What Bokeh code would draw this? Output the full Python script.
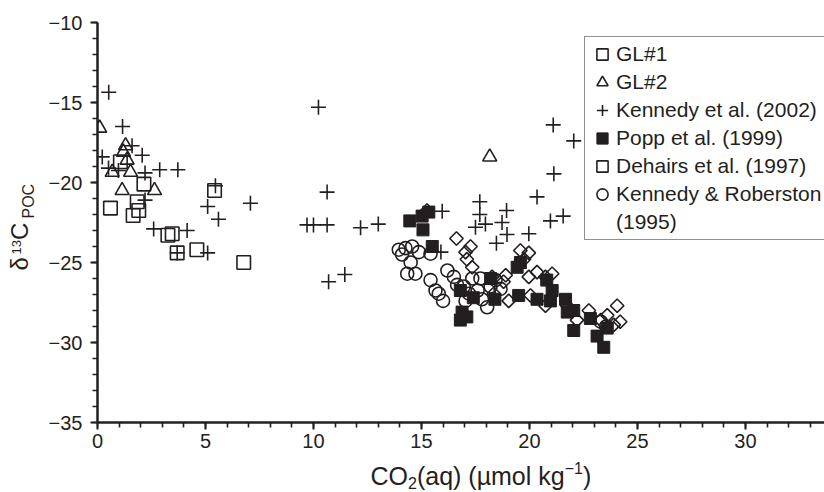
import math
from bokeh.plotting import figure
from bokeh.layouts import column, row
from bokeh.models import Legend, LegendItem, FixedTicker, Range1d
from bokeh.core.properties import value
from bokeh.embed import file_html
from bokeh.resources import INLINE

INK = "#231f20"
FONT = "Liberation Sans"

# ---------------- data ----------------
gl1_x = [0.6, 1.06, 1.84, 1.91, 1.65, 2.15, 3.26, 3.46, 3.69, 4.6, 5.42, 6.77]
gl1_y = [-21.6, -18.7, -21.2, -21.75, -22.06, -20.1, -23.3, -23.2, -24.4, -24.2, -20.5, -25.0]

gl2_x = [0.1, 1.3, 1.2, 1.37, 0.68, 1.53, 1.14, 2.64, 18.16]
gl2_y = [-16.6, -17.7, -18.1, -18.6, -19.36, -19.36, -20.5, -20.5, -18.4]

ken02_x = [0.52, 1.16, 1.6, 0.22, 2.07, 0.51, 0.97, 2.2, 2.88, 3.72, 5.46, 2.2, 5.1, 5.6,
           7.08, 2.6, 4.15, 3.69, 5.1,
           10.23, 10.63, 9.7, 10.0, 10.63, 12.18, 13.0, 10.7, 11.45,
           21.1, 22.05, 21.13, 20.35, 17.7, 15.96, 17.7, 18.94, 17.96, 17.5, 18.73,
           20.97, 21.56, 18.96, 19.97, 18.47, 15.9]
ken02_y = [-14.36, -16.5, -17.7, -18.4, -18.3, -19.1, -19.25, -19.4, -19.2, -19.2, -20.2, -21.1, -21.5, -22.3,
           -21.3, -22.9, -23.0, -24.4, -24.4,
           -15.3, -20.6, -22.65, -22.65, -22.65, -22.83, -22.6, -26.2, -25.75,
           -16.4, -17.4, -19.46, -20.9, -21.2, -21.8, -22.0, -21.75, -22.6, -22.8, -22.5,
           -22.4, -22.1, -23.25, -23.2, -23.8, -24.35]

popp_x = [14.46, 15.03, 15.34, 15.07, 15.5, 19.43, 19.58, 18.2, 18.4, 17.4, 16.8, 16.88, 17.1,
          16.8, 19.5, 20.35, 20.8, 21.05, 20.97, 21.67, 22.05, 21.75, 22.82, 22.05, 23.13,
          23.44, 23.6]
popp_y = [-22.4, -22.1, -21.85, -22.96, -24.0, -25.3, -25.0, -26.0, -27.3, -27.2, -26.75, -28.1, -28.4,
          -28.6, -27.06, -27.3, -26.1, -26.75, -27.4, -27.3, -28.0, -28.1, -28.5, -29.25, -29.6,
          -30.3, -29.1]

deh_x = [15.26, 16.62, 17.27, 17.04, 17.1, 17.35, 18.27, 18.9, 19.58, 19.97, 19.75, 20.35, 20.74,
         21.05, 19.97, 19.04, 20.05, 20.74, 21.75, 22.2, 22.75, 23.3, 23.6, 24.06, 24.2, 23.9,
         18.8, 18.35]
deh_y = [-21.75, -23.5, -24.0, -24.35, -24.8, -25.3, -25.9, -25.8, -24.25, -24.4, -24.8, -25.6, -25.9,
         -25.7, -25.9, -27.4, -27.06, -27.7, -27.7, -28.6, -28.0, -28.6, -28.3, -27.7, -28.7, -28.9,
         -26.2, -26.95]

kr_x = [13.95, 14.1, 14.26, 14.57, 14.88, 15.42, 14.5, 14.34, 14.72, 15.42, 15.8, 16.0, 16.2, 16.5,
        16.65, 16.96, 17.2, 17.35, 17.73, 17.6, 17.8, 18.04, 18.2, 18.43, 18.66, 17.04, 15.65,
        23.3, 23.55]
kr_y = [-24.2, -24.5, -24.1, -24.0, -24.35, -24.45, -25.0, -25.7, -25.7, -26.1, -26.95, -27.4, -25.5, -25.9,
        -26.4, -26.5, -26.95, -26.0, -26.0, -26.75, -27.3, -27.8, -26.5, -26.1, -26.65, -27.4, -26.75,
        -28.7, -29.0]

x_ticks = [0, 5, 10, 15, 20, 25, 30]
y_ticks = [-35, -30, -25, -20, -15, -10]
legend_labels = ["GL#1", "GL#2", "Kennedy et al. (2002)", "Popp et al. (1999)",
                 "Dehairs et al. (1997)", "Kennedy & Roberston", "(1995)"]

W, H = 824, 492
LEFT = 97          # frame left edge (page px)
TOP, BOTTOM = 22, 422
YLAB_W = 45        # strip holding the y title
MAIN_H = 460       # main figure height; x title strip below it

XMAX = 33.66
p = figure(width=W - YLAB_W, height=MAIN_H, output_backend="svg", toolbar_location=None,
           title=None,
           x_range=Range1d(0, XMAX), y_range=Range1d(-35, -10),
           min_border_left=LEFT - YLAB_W, min_border_right=0, min_border_top=TOP,
           min_border_bottom=MAIN_H - BOTTOM)
p.outline_line_color = None
p.grid.visible = False
p.background_fill_color = "white"
p.border_fill_color = "white"

p.xaxis.ticker = FixedTicker(ticks=x_ticks, minor_ticks=list(range(0, 34)))
p.yaxis.ticker = FixedTicker(ticks=y_ticks, minor_ticks=list(range(-35, -9)))
p.yaxis.major_label_overrides = {t: "\u2212%d" % (-t) for t in y_ticks}
for ax in (p.xaxis[0], p.yaxis[0]):
    ax.axis_line_width = 2.5
    ax.axis_line_color = INK
    ax.major_tick_line_color = INK
    ax.minor_tick_line_color = INK
    ax.major_tick_line_width = 2
    ax.minor_tick_line_width = 1.6
    ax.major_tick_in = 0
    ax.major_tick_out = 7
    ax.minor_tick_in = 0
    ax.minor_tick_out = 5
    ax.major_label_text_font = FONT
    ax.major_label_text_font_size = "20px"
    ax.major_label_text_color = INK
p.xaxis.major_label_standoff = 4
p.yaxis.major_label_standoff = 8

common = dict(line_color=INK, line_width=1.6)
r_gl1 = p.scatter(gl1_x, gl1_y, marker="square", size=13.5, fill_color=None, **common)
r_gl2 = p.scatter(gl2_x, gl2_y, marker="triangle", size=14, fill_color=None, **common)
r_kr = p.scatter(kr_x, kr_y, marker="circle", size=13, fill_color=None, **common)
r_deh = p.scatter(deh_x, deh_y, marker="square", angle=math.pi / 4, size=9.5, fill_color=None, **common)
r_popp = p.scatter(popp_x, popp_y, marker="square", size=12, fill_color=INK, line_color=INK, line_width=1)
r_ken = p.scatter(ken02_x, ken02_y, marker="cross", size=15, **common)
r_blank = p.scatter([], [], marker="circle", size=1, fill_color=None, line_color=None)

legend = Legend(items=[
    LegendItem(label=legend_labels[0], renderers=[r_gl1]),
    LegendItem(label=legend_labels[1], renderers=[r_gl2]),
    LegendItem(label=legend_labels[2], renderers=[r_ken]),
    LegendItem(label=legend_labels[3], renderers=[r_popp]),
    LegendItem(label=legend_labels[4], renderers=[r_deh]),
    LegendItem(label=legend_labels[5], renderers=[r_kr]),
    LegendItem(label=legend_labels[6], renderers=[r_blank]),
], location=(487, 182), glyph_width=28, glyph_height=28, label_height=28, label_width=10,
    spacing=0, padding=3, margin=0, label_standoff=0,
    label_text_font=FONT, label_text_font_size="21px", label_text_color=INK,
    border_line_color=INK, border_line_width=1.5,
    background_fill_color="white", background_fill_alpha=1.0)
p.add_layout(legend)


# ---------------- title strips with page-pixel ranges ----------------
def strip(width, height, y0, y1):
    f = figure(width=width, height=height, output_backend="svg", toolbar_location=None,
               title=None,
               x_range=Range1d(0, width), y_range=Range1d(y1, y0),
               min_border=0, x_axis_location=None, y_axis_location=None)
    f.outline_line_color = None
    f.grid.visible = False
    f.background_fill_color = "white"
    f.border_fill_color = "white"
    return f


BASE_SHIFT = 0.345  # anchor-to-baseline offset of rendered text, in em


def txt(f, x, y, text, size, angle=0.0):
    # (x, y): start of the text's baseline in page pixels
    if angle:
        x = x - BASE_SHIFT * size
    else:
        y = y - BASE_SHIFT * size
    f.text(x=[x], y=[y], text=[text], angle=angle,
           text_font=value(FONT), text_font_size=value("%dpx" % size), text_color=INK,
           text_align="left", text_baseline="alphabetic")


# y title: δ13C_POC, read bottom-to-top (strip frame is aligned to the main frame)
ys = strip(YLAB_W, MAIN_H, TOP, BOTTOM)
A = math.pi / 2
txt(ys, 27.5, 270, "\u03b4", 24, A)
txt(ys, 20, 254, "13", 13, A)
txt(ys, 27.5, 239.5, "C", 24, A)
txt(ys, 33.5, 218, "POC", 16, A)

# x title: CO2(aq) (µmol kg−1)
xs = strip(W, H - MAIN_H, MAIN_H, H)
txt(xs, 370, 484, "CO", 25)
txt(xs, 407.5, 488, "2", 16)
txt(xs, 416.4, 484, "(aq) (\u00b5mol kg", 25)
txt(xs, 564.2, 473, "\u22121", 16)
txt(xs, 582.4, 484, ")", 25)

layout = column(row(ys, p, spacing=0), xs, spacing=0)
open("out.html", "w").write(file_html(layout, INLINE))
